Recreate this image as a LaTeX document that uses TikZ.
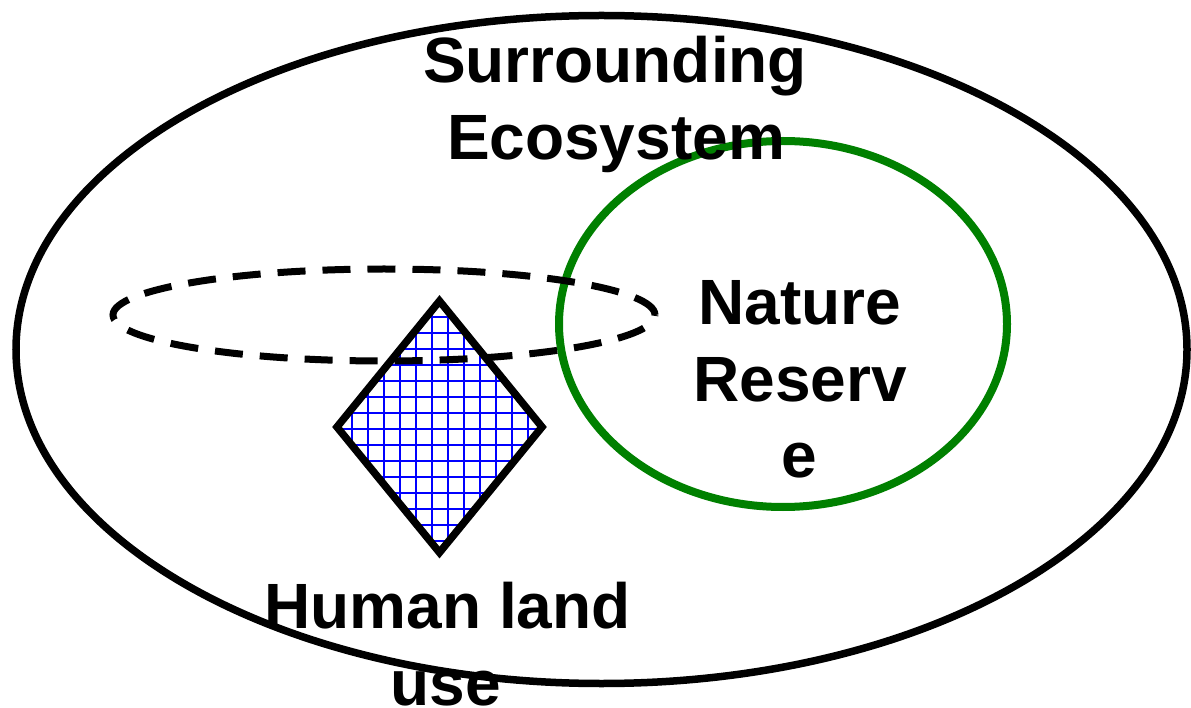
\documentclass[tikz,border=0pt]{standalone}
\usepackage{fontspec}
\setmainfont{Liberation Sans}
\definecolor{reservegreen}{RGB}{0,128,0}
\definecolor{gridblue}{RGB}{0,0,255}
\begin{document}
\begin{tikzpicture}[x=1pt,y=-1pt,
  outline/.style={draw=black,line width=7.5pt},
  reserve/.style={draw=reservegreen,line width=8pt},
  zone/.style={draw=black,line width=7pt,dash pattern=on 28pt off 17pt},
  landuse/.style={draw=black,line width=7.5pt,line join=miter},
  gridline/.style={draw=gridblue,line width=2.1pt},
  label/.style={inner sep=0pt,anchor=base,font=\fontsize{64}{77}\selectfont\bfseries}]
\useasboundingbox (0,0) rectangle (1191,708);
% surrounding ecosystem
\draw[outline] (601.5,349.5) ellipse [x radius=585.5pt, y radius=334pt];
% nature reserve
\draw[reserve] (783,324) ellipse [x radius=224pt, y radius=183pt];
% human land use diamond with grid
\coordinate (dt) at (439.5,301);
\coordinate (dr) at (542,427);
\coordinate (db) at (439.5,552.5);
\coordinate (dl) at (337,427);
\begin{scope}
  \clip (dt) -- (dr) -- (db) -- (dl) -- cycle;
  \fill[white] (dt) -- (dr) -- (db) -- (dl) -- cycle;
  \foreach \k in {-6,...,6} {
    \draw[gridline] (440+8+16*\k,290) -- (440+8+16*\k,565);
  }
  \foreach \k in {-9,...,8} {
    \draw[gridline] (325,428.7+16*\k) -- (555,428.7+16*\k);
  }
\end{scope}
\draw[landuse] (dt) -- (dr) -- (db) -- (dl) -- cycle;
% dashed zone
\draw[zone] (384,315) ellipse [x radius=271pt, y radius=46pt];
% labels
\node[label] (s1) at (615,83) {Surrounding};
\node[label] (s2) at (616,160) {Ecosystem};
\node[label] (n1) at (800,325) {Nature};
\node[label] (n2) at (800,401) {Reserv};
\node[label] (n3) at (799,477) {e};
\node[label] (h1) at (447.5,628) {Human land};
\node[label] (h2) at (446,705) {use};
\end{tikzpicture}
\end{document}
